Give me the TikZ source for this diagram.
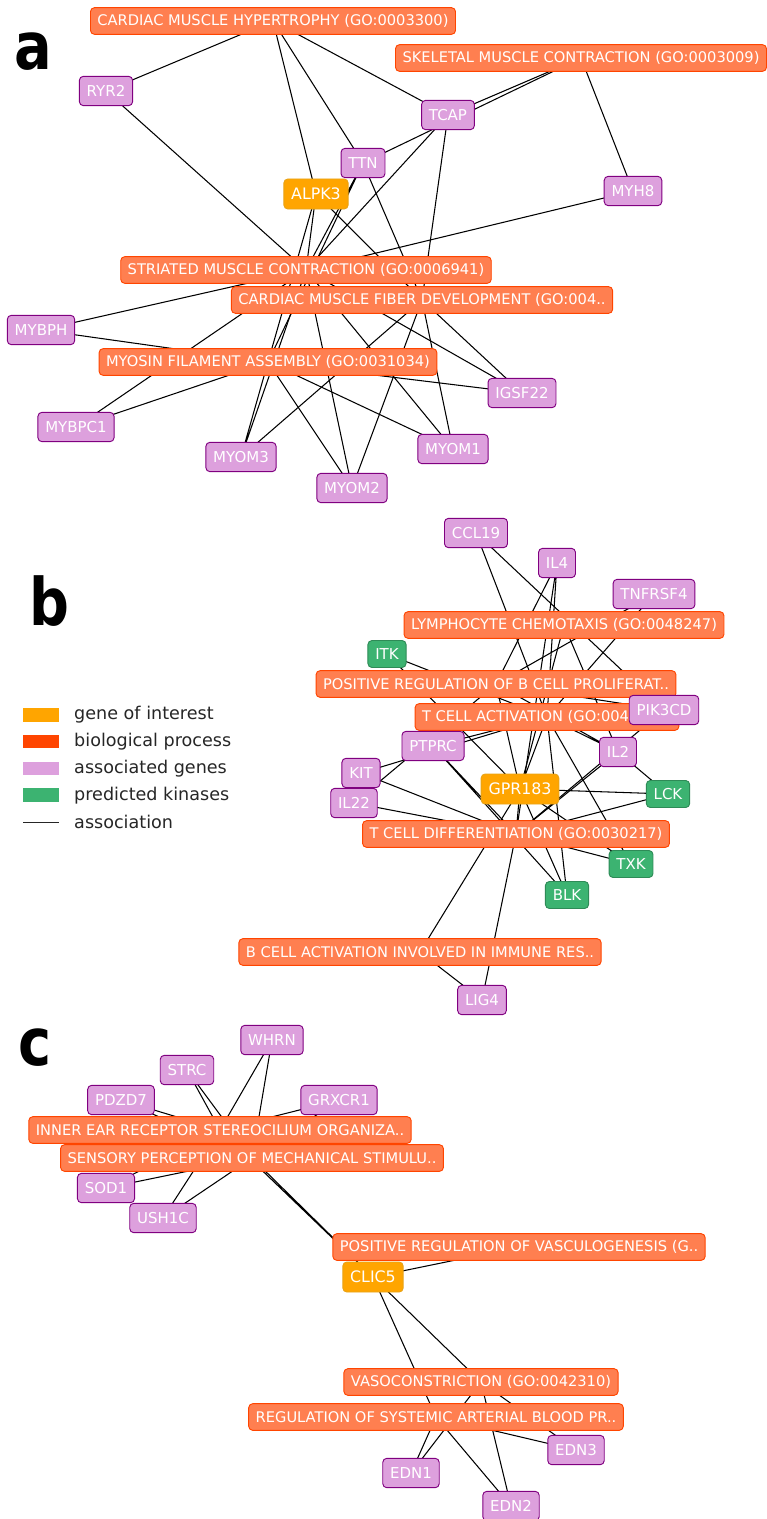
\documentclass[tikz,border=0pt]{standalone}
\usepackage{fontspec}
\setmainfont{DejaVu Sans}
\usepackage{tikz}
\usetikzlibrary{positioning}
\definecolor{procfill}{HTML}{FF7F50}
\definecolor{procline}{HTML}{FF4500}
\definecolor{genefill}{HTML}{DDA0DD}
\definecolor{geneline}{HTML}{800080}
\definecolor{goifill}{HTML}{FFA500}
\definecolor{goiline}{HTML}{E8A317}
\definecolor{kinfill}{HTML}{3CB371}
\definecolor{kinline}{HTML}{2E8B57}
\definecolor{legtext}{HTML}{262626}
\pgfdeclarelayer{bg}
\pgfsetlayers{bg,main}

\begin{document}
\begin{tikzpicture}[x=0.03cm, y=-0.03cm,
    proc/.style={rectangle, rounded corners=0.12cm, draw=procline, fill=procfill, line width=0.8pt, text=white, inner xsep=0.21cm, inner ysep=0pt, minimum height=0.8cm, font=\fontsize{12.5}{14}\selectfont},
    gene/.style={rectangle, rounded corners=0.12cm, draw=geneline, fill=genefill, line width=0.8pt, text=white, inner xsep=0.22cm, inner ysep=0pt, minimum height=0.88cm, font=\fontsize{12.8}{14}\selectfont},
    goi/.style={gene, draw=goiline, fill=goifill, minimum height=0.9cm, font=\fontsize{13.5}{15}\selectfont},
    kinase/.style={gene, draw=kinline, fill=kinfill, minimum height=0.81cm},
    assoc/.style={line width=0.9pt, black},
    panel/.style={font=\fontsize{56}{60}\selectfont\bfseries, inner sep=0pt, anchor=base west},
    legend/.style={font=\fontsize{15}{18}\selectfont, text=legtext, inner sep=0pt, anchor=west}
]
\useasboundingbox (0,0) rectangle (767,1519);

\node[panel] (labela) at (14,70) {\scalebox{0.85}[1]{a}};
\node[panel] (labelb) at (29,625) {\scalebox{0.85}[1]{b}};
\node[panel] (labelc) at (18,1065) {\scalebox{0.85}[1]{c}};

\node[proc] (cmh) at (273,21) {CARDIAC MUSCLE HYPERTROPHY (GO:0003300)};
\node[proc] (smc) at (581,58) {SKELETAL MUSCLE CONTRACTION (GO:0003009)};
\node[gene] (ryr2) at (106,91) {RYR2};
\node[gene] (tcap) at (448,115) {TCAP};
\node[gene] (ttn) at (363,163) {TTN};
\node[goi] (alpk3) at (316,194) {ALPK3};
\node[gene] (myh8) at (633,191) {MYH8};
\node[proc] (striated) at (306,270) {STRIATED MUSCLE CONTRACTION (GO:0006941)};
\node[proc] (cmfd) at (422,300) {CARDIAC MUSCLE FIBER DEVELOPMENT (GO:004..};
\node[gene] (mybph) at (41,330) {MYBPH};
\node[proc] (mfa) at (268,362) {MYOSIN FILAMENT ASSEMBLY (GO:0031034)};
\node[gene] (igsf22) at (522,393) {IGSF22};
\node[gene] (mybpc1) at (76,427) {MYBPC1};
\node[gene] (myom1) at (453,449) {MYOM1};
\node[gene] (myom3) at (241,457) {MYOM3};
\node[gene] (myom2) at (352,488) {MYOM2};

\node[gene] (ccl19) at (476,533) {CCL19};
\node[gene] (il4) at (557,563) {IL4};
\node[gene] (tnfrsf4) at (654,594) {TNFRSF4};
\node[proc] (lymph) at (564,625) {LYMPHOCYTE CHEMOTAXIS (GO:0048247)};
\node[kinase] (itk) at (387,654) {ITK};
\node[proc] (bprolif) at (496,684) {POSITIVE REGULATION OF B CELL PROLIFERAT..};
\node[proc] (tact) at (547,717) {T CELL ACTIVATION (GO:0042110)};
\node[gene] (pik3cd) at (664,710) {PIK3CD};
\node[gene] (ptprc) at (433,746) {PTPRC};
\node[gene] (il2) at (618,752) {IL2};
\node[gene] (kit) at (361,773) {KIT};
\node[goi] (gpr183) at (520,789) {GPR183};
\node[kinase] (lck) at (668,794) {LCK};
\node[gene] (il22) at (354,803) {IL22};
\node[proc] (tdiff) at (516,834) {T CELL DIFFERENTIATION (GO:0030217)};
\node[kinase] (txk) at (631,864) {TXK};
\node[kinase] (blk) at (567,895) {BLK};
\node[proc] (bactiv) at (420,952) {B CELL ACTIVATION INVOLVED IN IMMUNE RES..};
\node[gene] (lig4) at (482,1000) {LIG4};

\node[gene] (whrn) at (272,1040) {WHRN};
\node[gene] (strc) at (187,1070) {STRC};
\node[gene] (pdzd7) at (121,1100) {PDZD7};
\node[gene] (grxcr1) at (339,1100) {GRXCR1};
\node[proc] (stereo) at (220,1130) {INNER EAR RECEPTOR STEREOCILIUM ORGANIZA..};
\node[proc] (mechano) at (252,1158) {SENSORY PERCEPTION OF MECHANICAL STIMULU..};
\node[gene] (sod1) at (106,1188) {SOD1};
\node[gene] (ush1c) at (163,1218) {USH1C};
\node[proc] (vasculo) at (519,1247) {POSITIVE REGULATION OF VASCULOGENESIS (G..};
\node[goi] (clic5) at (373,1277) {CLIC5};
\node[proc] (vasocon) at (481,1382) {VASOCONSTRICTION (GO:0042310)};
\node[proc] (arterial) at (436,1417) {REGULATION OF SYSTEMIC ARTERIAL BLOOD PR..};
\node[gene] (edn3) at (576,1450) {EDN3};
\node[gene] (edn1) at (411,1473) {EDN1};
\node[gene] (edn2) at (511,1506) {EDN2};

\fill[goifill] (23,708) rectangle (59,722);
\fill[procline] (23,735) rectangle (59,748);
\fill[genefill] (23,762) rectangle (59,775);
\fill[kinfill] (23,788) rectangle (59,802);
\draw[legtext, line width=0.7pt] (23,822) -- (59,822);
\node[legend] (leggoi) at (74,715) {gene of interest};
\node[legend] (legproc) at (74,742) {biological process};
\node[legend] (leggene) at (74,769) {associated genes};
\node[legend] (legkin) at (74,796) {predicted kinases};
\node[legend] (legassoc) at (74,822) {association};

\begin{pgfonlayer}{bg}
\draw[assoc] (ryr2.center) -- (cmh.center) (ryr2.center) -- (striated.center);
\draw[assoc] (alpk3.center) -- (cmh.center) (alpk3.center) -- (striated.center) (alpk3.center) -- (cmfd.center) (alpk3.center) -- (mfa.center);
\draw[assoc] (ttn.center) -- (cmh.center) (ttn.center) -- (smc.center) (ttn.center) -- (striated.center) (ttn.center) -- (cmfd.center) (ttn.center) -- (mfa.center);
\draw[assoc] (tcap.center) -- (cmh.center) (tcap.center) -- (smc.center) (tcap.center) -- (striated.center) (tcap.center) -- (cmfd.center);
\draw[assoc] (myh8.center) -- (smc.center) (myh8.center) -- (striated.center);
\draw[assoc] (mybph.center) -- (striated.center) (mybph.center) -- (mfa.center);
\draw[assoc] (mybpc1.center) -- (striated.center) (mybpc1.center) -- (mfa.center);
\draw[assoc] (igsf22.center) -- (striated.center) (igsf22.center) -- (cmfd.center) (igsf22.center) -- (mfa.center);
\draw[assoc] (myom1.center) -- (striated.center) (myom1.center) -- (cmfd.center) (myom1.center) -- (mfa.center);
\draw[assoc] (myom2.center) -- (striated.center) (myom2.center) -- (cmfd.center) (myom2.center) -- (mfa.center);
\draw[assoc] (myom3.center) -- (striated.center) (myom3.center) -- (cmfd.center) (myom3.center) -- (mfa.center);

\draw[assoc] (ccl19.center) -- (tact.center) (ccl19.center) -- (pik3cd.center);
\draw[assoc] (il4.center) -- (bprolif.center) (il4.center) -- (tact.center) (il4.center) -- (tdiff.center);
\draw[assoc] (tnfrsf4.center) -- (tact.center) (tnfrsf4.center) -- (bprolif.center);
\draw[assoc] (itk.center) -- (tact.center) (itk.center) -- (gpr183.center);
\draw[assoc] (pik3cd.center) -- (tdiff.center) (pik3cd.center) -- (bprolif.center);
\draw[assoc] (ptprc.center) -- (tact.center) (ptprc.center) -- (tdiff.center) (ptprc.center) -- (blk.center);
\draw[assoc] (il2.center) -- (tact.center) (il2.center) -- (bprolif.center) (il2.center) -- (lymph.center) (il2.center) -- (tdiff.center) (il2.center) -- (lck.center);
\draw[assoc] (kit.center) -- (tact.center) (kit.center) -- (tdiff.center);
\draw[assoc] (il22.center) -- (tdiff.center) (il22.center) -- (bprolif.center);
\draw[assoc] (gpr183.center) -- (lymph.center) (gpr183.center) -- (bprolif.center) (gpr183.center) -- (tact.center) (gpr183.center) -- (tdiff.center) (gpr183.center) -- (bactiv.center);
\draw[assoc] (gpr183.center) -- (lck.center) (gpr183.center) -- (blk.center) (gpr183.center) -- (txk.center);
\draw[assoc] (lck.center) -- (tdiff.center);
\draw[assoc] (txk.center) -- (tact.center) (txk.center) -- (tdiff.center);
\draw[assoc] (blk.center) -- (tact.center);
\draw[assoc] (lig4.center) -- (bactiv.center) (lig4.center) -- (tdiff.center);

\draw[assoc] (whrn.center) -- (stereo.center) (whrn.center) -- (mechano.center);
\draw[assoc] (strc.center) -- (stereo.center) (strc.center) -- (mechano.center);
\draw[assoc] (pdzd7.center) -- (stereo.center) (pdzd7.center) -- (mechano.center);
\draw[assoc] (grxcr1.center) -- (stereo.center) (grxcr1.center) -- (mechano.center);
\draw[assoc] (sod1.center) -- (stereo.center) (sod1.center) -- (mechano.center);
\draw[assoc] (ush1c.center) -- (stereo.center) (ush1c.center) -- (mechano.center);
\draw[assoc] (clic5.center) -- (stereo.center) (clic5.center) -- (mechano.center) (clic5.center) -- (vasculo.center) (clic5.center) -- (vasocon.center) (clic5.center) -- (arterial.center);
\draw[assoc] (edn1.center) -- (vasocon.center) (edn1.center) -- (arterial.center);
\draw[assoc] (edn2.center) -- (vasocon.center) (edn2.center) -- (arterial.center);
\draw[assoc] (edn3.center) -- (vasocon.center) (edn3.center) -- (arterial.center);
\end{pgfonlayer}

\end{tikzpicture}
\end{document}
